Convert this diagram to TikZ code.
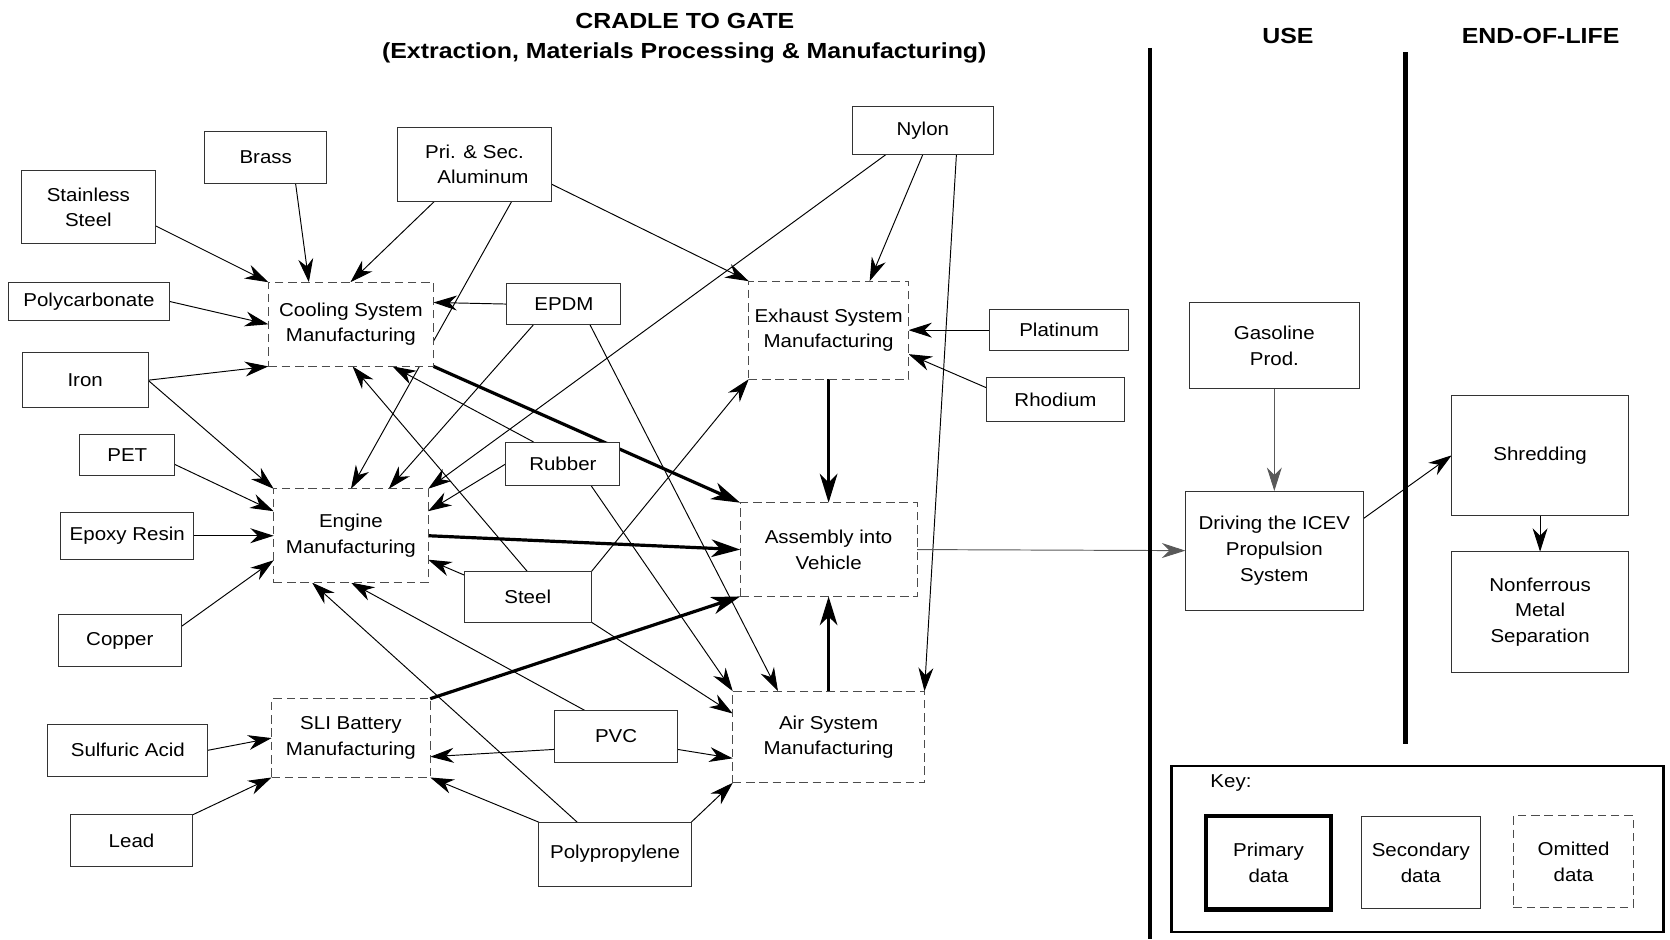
\documentclass[tikz,border=0pt]{standalone}
\usepackage{fontspec}
\setmainfont{Liberation Sans}[FakeStretch=1.1]
\newfontfamily\headfont{Liberation Sans}[FakeStretch=1.14]
\usetikzlibrary{arrows.meta}
\pgfdeclarelayer{edges}
\pgfsetlayers{edges,main}

\begin{document}
\begin{tikzpicture}[x=1pt,y=-1pt,
  every node/.style={font=\fontsize{17.5}{24}\selectfont},
  sz/.style 2 args={minimum width=#1pt, minimum height=#2pt},
  box/.style={draw=black!80, line width=0.9pt, fill=white, inner sep=0pt, outer sep=0pt, align=center},
  omitbox/.style={box, draw=black!70, dash pattern=on 8pt off 4.5pt},
  flow/.style={line width=0.9pt, -{Stealth[length=22pt,width=14pt,inset=7pt]}},
  mainflow/.style={line width=3pt, -{Stealth[length=27pt,width=16.5pt,inset=8pt]}},
  head/.style={font=\headfont\bfseries\fontsize{20.5}{24}\selectfont, anchor=base},
  divider/.style={line width=4pt}
]
\useasboundingbox (0,0) rectangle (1568,882);

% stage headings
\node[head] (t1) at (643,26.6) {CRADLE TO GATE};
\node[head] (t2) at (642.5,54.8) {(Extraction, Materials Processing \& Manufacturing)};
\node[head] (tuse) at (1209.3,40.7) {USE};
\node[head] (teol) at (1446.5,40.7) {END-OF-LIFE};

% stage dividers
\draw[divider] (1079.5,45) -- (1079.5,882);
\draw[divider] (1319.7,49) -- (1319.7,699);

% materials (secondary data)
\node[box, sz={115}{49}] (brass) at (249.5,147.5) {Brass};
\node[box, sz={126}{69}] (ss) at (83,194.5) {Stainless\\Steel};
\node[box, sz={145}{69}] (al) at (445.5,154.5) {Pri. \& Sec.\\\hspace*{16pt}Aluminum};
\node[box, sz={133}{45}] (nylon) at (866.5,122.5) {Nylon};
\node[box, sz={151}{36}] (pc) at (83.5,283) {Polycarbonate};
\node[box, sz={107}{39}] (epdm) at (529.5,285.5) {EPDM};
\node[box, sz={131}{38}] (plat) at (994.5,310) {Platinum};
\node[box, sz={118}{52}] (iron) at (80,357) {Iron};
\node[box, sz={130}{42}] (rhod) at (991,375) {Rhodium};
\node[box, sz={89}{38}] (pet) at (119.5,427) {PET};
\node[box, sz={107}{41}] (rubber) at (528.5,435.5) {Rubber};
\node[box, sz={125}{44}] (epoxy) at (119.5,503) {Epoxy Resin};
\node[box, sz={119}{47}] (steel) at (495.5,560.5) {Steel};
\node[box, sz={115}{49}] (copper) at (112.5,601.5) {Copper};
\node[box, sz={150}{49}] (sulf) at (120,704.5) {Sulfuric Acid};
\node[box, sz={115}{49}] (pvc) at (578.5,691.5) {PVC};
\node[box, sz={115}{49}] (lead) at (123.5,789.5) {Lead};
\node[box, sz={143}{60}] (pp) at (577.5,802) {Polypropylene};

% use and end-of-life stages
\node[box, sz={159}{81}] (gas) at (1196.5,324.5) {Gasoline\\Prod.};
\node[box, sz={167}{112}] (drive) at (1196.5,517) {Driving the ICEV\\Propulsion\\System};
\node[box, sz={166}{113}] (shred) at (1446,427.5) {Shredding};
\node[box, sz={166}{113}] (nonf) at (1446,574.5) {Nonferrous\\Metal\\Separation};

% manufacturing steps (omitted data)
\node[omitbox, sz={155}{79}] (cool) at (329.5,304.5) {Cooling System\\Manufacturing};
\node[omitbox, sz={150}{92}] (exh) at (778,310) {Exhaust System\\Manufacturing};
\node[omitbox, sz={145}{88}] (eng) at (329.5,503) {Engine\\Manufacturing};
\node[omitbox, sz={166}{88}] (asm) at (778,516) {Assembly into\\Vehicle};
\node[omitbox, sz={149}{74}] (sli) at (329.5,693) {SLI Battery\\Manufacturing};
\node[omitbox, sz={180}{86}] (air) at (778,692) {Air System\\Manufacturing};

% legend
\node[box, draw=black, line width=2.2pt, sz={462}{156}] (keybox) at (1331,797) {};
\node[anchor=west] (keylbl) at (1133,735) {Key:};
\node[box, draw=black, line width=4pt, sz={118}{88}] (prim) at (1191,810) {Primary\\data};
\node[box, sz={112}{86}] (sec) at (1334,810) {Secondary\\data};
\node[omitbox, sz={113}{86}] (omit) at (1477.5,809) {Omitted\\data};

\begin{pgfonlayer}{edges}
% into cooling system manufacturing
\draw[flow] ([shift={(126,52)}]ss.north west) -- (cool.north west);
\draw[flow] ([shift={(85.5,49)}]brass.north west) -- ([shift={(38,0)}]cool.north west);
\draw[flow] ([shift={(35,69)}]al.north west) -- ([shift={(77,0)}]cool.north west);
\draw[flow] (pc.east) -- (cool.west);
\draw[flow] (iron.east) -- (cool.south west);
\draw[flow] (epdm.west) -- ([shift={(155,19)}]cool.north west);
\draw[flow] (steel.north) -- ([shift={(79,79)}]cool.north west);
\draw[flow] ([shift={(26,0)}]rubber.north west) -- ([shift={(116.5,79)}]cool.north west);
% into engine manufacturing
\draw[flow] (iron.east) -- (eng.north west);
\draw[flow] ([shift={(89,28)}]pet.north west) -- ([shift={(0,21)}]eng.north west);
\draw[flow] (epoxy.east) -- (eng.west);
\draw[flow] ([shift={(115,11.4)}]copper.north west) -- ([shift={(0,67)}]eng.north west);
\draw[flow] ([shift={(107.5,69)}]al.north west) -- (eng.north);
\draw[flow] ([shift={(24.8,39)}]epdm.north west) -- ([shift={(108,0)}]eng.north west);
\draw[flow] ([shift={(32,45)}]nylon.north west) -- (eng.north east);
\draw[flow] (rubber.west) -- ([shift={(145,21)}]eng.north west);
\draw[flow] ([shift={(0,3)}]steel.north west) -- ([shift={(145,66.5)}]eng.north west);
\draw[flow] ([shift={(28,0)}]pvc.north west) -- (eng.south);
\draw[flow] ([shift={(36,0)}]pp.north west) -- ([shift={(36,88)}]eng.north west);
% into exhaust system manufacturing
\draw[flow] ([shift={(145,53)}]al.north west) -- (exh.north west);
\draw[flow] (nylon.south) -- ([shift={(113.5,0)}]exh.north west);
\draw[flow] (plat.west) -- (exh.east);
\draw[flow] ([shift={(0,10)}]rhod.north west) -- ([shift={(150,68.5)}]exh.north west);
\draw[flow] (steel.north east) -- (exh.south west);
% into air system manufacturing
\draw[flow] ([shift={(98,45)}]nylon.north west) -- (air.north east);
\draw[flow] ([shift={(78,39)}]epdm.north west) -- ([shift={(42.5,0)}]air.north west);
\draw[flow] ([shift={(80,41)}]rubber.north west) -- (air.north west);
\draw[flow] (steel.south east) -- ([shift={(0,21)}]air.north west);
\draw[flow] ([shift={(115,36.6)}]pvc.north west) -- ([shift={(0,63)}]air.north west);
\draw[flow] (pp.north east) -- (air.south west);
% into SLI battery manufacturing
\draw[flow] (sulf.east) -- (sli.west);
\draw[flow] (lead.north east) -- (sli.south west);
\draw[flow] ([shift={(0,36.6)}]pvc.north west) -- ([shift={(149,54.5)}]sli.north west);
\draw[flow] (pp.north west) -- (sli.south east);
% sub-assemblies into the vehicle
\draw[mainflow] (cool.south east) -- (asm.north west);
\draw[mainflow] (eng.east) -- (asm.west);
\draw[mainflow] (sli.north east) -- (asm.south west);
\draw[mainflow] (exh.south) -- (asm.north);
\draw[mainflow] (air.north) -- (asm.south);
% use and end of life
\draw[flow, draw=black!65] (asm.east) -- (drive.west);
\draw[flow, draw=black!65] (gas.south) -- (drive.north);
\draw[flow] ([shift={(167,26)}]drive.north west) -- (shred.west);
\draw[flow] (shred.south) -- (nonf.north);
\end{pgfonlayer}
\end{tikzpicture}
\end{document}
